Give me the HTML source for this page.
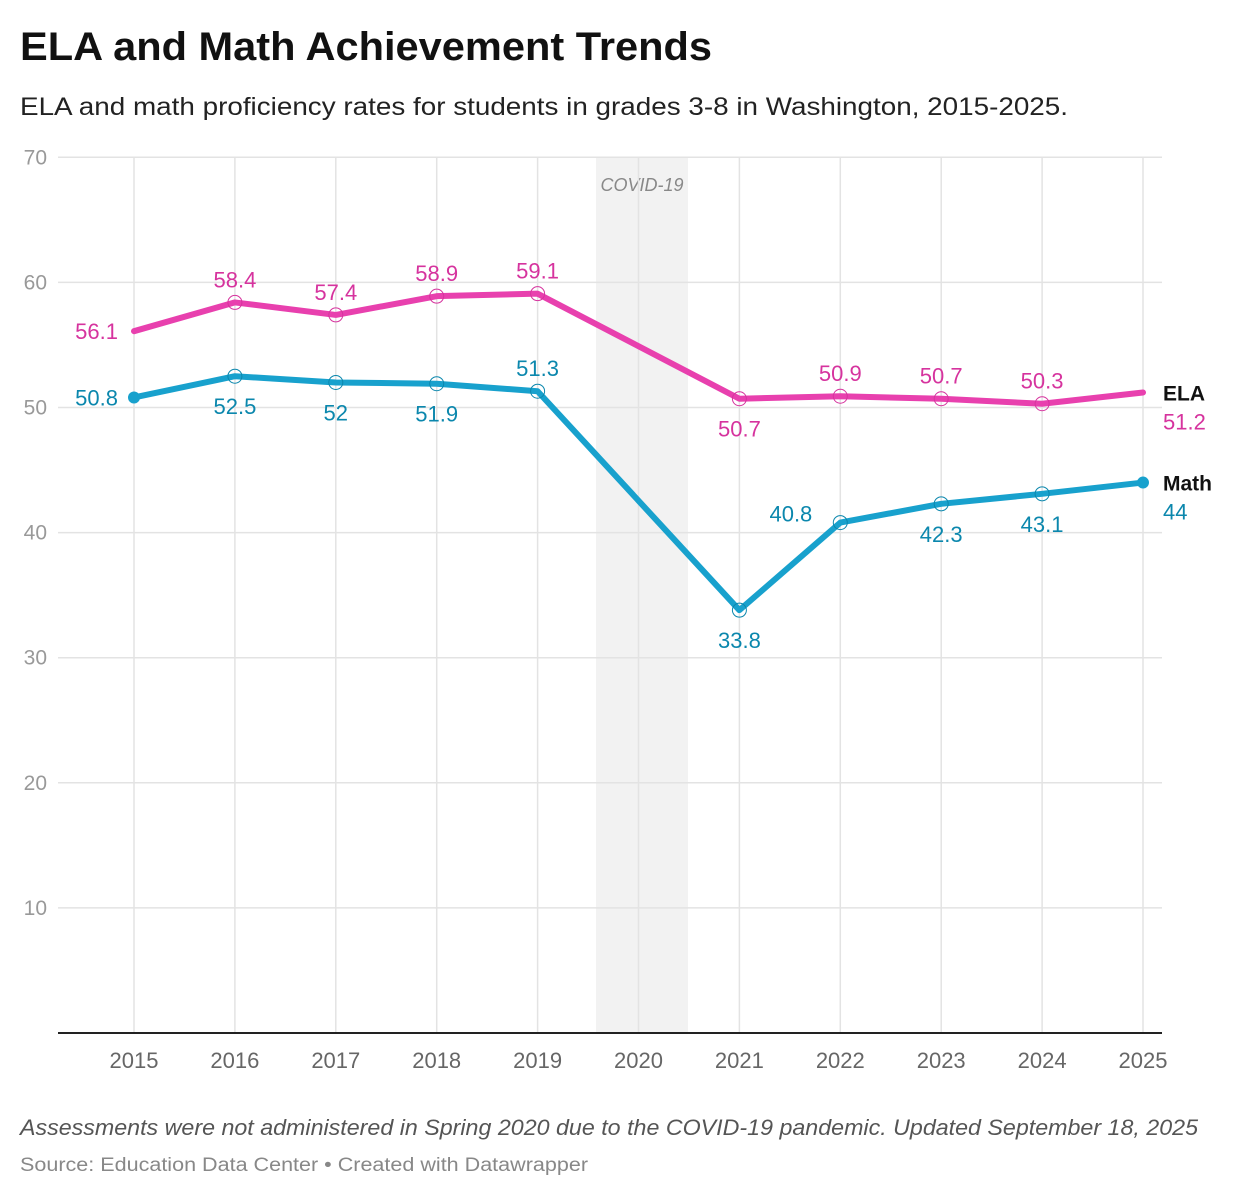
<!DOCTYPE html>
<html><head><meta charset="utf-8">
<style>
body{margin:0;background:#fff;font-family:"Liberation Sans",Arial,sans-serif;}
#wrap{position:relative;width:1238px;height:1198px;overflow:hidden;}
svg text{font-family:"Liberation Sans",Arial,sans-serif;}
</style></head>
<body>
<div id="wrap">
<svg id="chart" width="1238" height="1198"></svg>
</div>
<script>
const years=[2015,2016,2017,2018,2019,2021,2022,2023,2024,2025];
const ela=[56.1,58.4,57.4,58.9,59.1,50.7,50.9,50.7,50.3,51.2];
const math=[50.8,52.5,52,51.9,51.3,33.8,40.8,42.3,43.1,44];
const yTicks=[10,20,30,40,50,60,70];
const xTicks=[2015,2016,2017,2018,2019,2020,2021,2022,2023,2024,2025];
const elaPos=['left','above','above','above','above','below','above','above','above','end'];
const mathPos=['left','below','below','below','above','below','leftabove','below','below','end'];

const svg=document.getElementById('chart');
const NS='http://www.w3.org/2000/svg';
const X=y=>134+(y-2015)*100.9;
const Y=v=>1033-v*12.51;
function mk(tag,attrs,txt){const e=document.createElementNS(NS,tag);for(const k in attrs)e.setAttribute(k,attrs[k]);if(txt!==undefined)e.textContent=txt;svg.appendChild(e);return e;}

let t=mk('text',{x:20,y:60,'font-size':40,'font-weight':'bold',fill:'#111',textLength:692,lengthAdjust:'spacingAndGlyphs'},'ELA and Math Achievement Trends');

t=mk('text',{x:20,y:115,'font-size':25,fill:'#222',textLength:1048,lengthAdjust:'spacingAndGlyphs'},'ELA and math proficiency rates for students in grades 3-8 in Washington, 2015-2025.');


let band=mk('rect',{x:596,y:157,width:92,height:876,fill:'#f2f2f2'});

t=mk('text',{x:642,y:191,'font-size':18,'font-style':'italic',fill:'#888','text-anchor':'middle'},'COVID-19');


yTicks.forEach(v=>{
 let l=mk('line',{x1:58,x2:1162,y1:Y(v),y2:Y(v),stroke:'#e3e3e3','stroke-width':1.5});
 
 let tx=mk('text',{x:47,y:Y(v)+7,'font-size':21,fill:'#999','text-anchor':'end'},v);
 
});
xTicks.forEach(yr=>{
 let l=mk('line',{x1:X(yr),x2:X(yr),y1:157,y2:1033,stroke:'#e3e3e3','stroke-width':1.5});
 
 let tx=mk('text',{x:X(yr),y:1068,'font-size':22,fill:'#666','text-anchor':'middle'},yr);
 
});
let ax=mk('line',{x1:58,x2:1162,y1:1033,y2:1033,stroke:'#222','stroke-width':2});


function series(vals,pos,color,lblColor,name){
 const d=vals.map((v,i)=>(i?'L':'M')+X(years[i])+','+Y(v)).join(' ');
 let p=mk('path',{d:d,fill:'none',stroke:color,'stroke-width':6,'stroke-linejoin':'round','stroke-linecap':'round'});
 
 vals.forEach((v,i)=>{
  const cx=X(years[i]),cy=Y(v);
  let filled=(name==='math'&&(i===0||i===vals.length-1));
  if(name==='ela'&&(i===0||i===vals.length-1)){}else{
   let c=mk('circle',{cx:cx,cy:cy,r:filled?6:7,fill:filled?color:'none',stroke:filled?'none':lblColor,'stroke-width':1});
   
  }
  let ps=pos[i],lx=cx,ly=cy,anc='middle';
  if(ps==='above')ly=cy-15;
  else if(ps==='below')ly=cy+38;
  else if(ps==='left'){lx=cx-16;ly=cy+8;anc='end';}
  else if(ps==='leftabove'){lx=cx-28;ly=cy-1;anc='end';}
  else if(ps==='end'){lx=cx+20;ly=cy+37;anc='start';
   let n=mk('text',{x:lx,y:cy+8,'font-size':21,'font-weight':'bold',fill:'#111'},name==='ela'?'ELA':'Math');
   }
  let tx=mk('text',{x:lx,y:ly,'font-size':22,fill:lblColor,'text-anchor':anc},v);
  
 });
}
series(ela,elaPos,'#e840ae','#d6339e','ela');
series(math,mathPos,'#18a1cd','#0b87ad','math');

t=mk('text',{x:20,y:1135,'font-size':22,'font-style':'italic',fill:'#555',textLength:1178,lengthAdjust:'spacingAndGlyphs'},'Assessments were not administered in Spring 2020 due to the COVID-19 pandemic. Updated September 18, 2025');

t=mk('text',{x:20,y:1171,'font-size':19,fill:'#888',textLength:568,lengthAdjust:'spacingAndGlyphs'},'Source: Education Data Center • Created with Datawrapper');

</script>
</body></html>
